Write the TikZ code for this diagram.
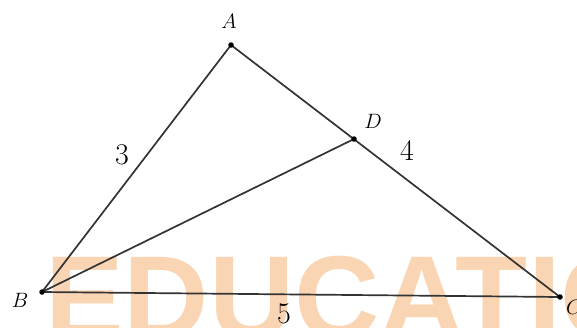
\documentclass[tikz,border=0pt]{standalone}
\usepackage{fontspec}
\newfontfamily\wmfont{Liberation Sans}
\definecolor{wm}{HTML}{FAD5B4}
\definecolor{ln}{HTML}{333333}
\begin{document}
\begin{tikzpicture}[x=1pt,y=-1pt,
  seg/.style={draw=ln,line width=1.7pt},
  pt/.style={circle,fill=black,inner sep=0pt,minimum size=5.5pt},
  lbl/.style={font=\fontsize{20.5}{20.5}\selectfont},
  num/.style={font=\fontsize{30}{30}\selectfont}]
\useasboundingbox (0,0) rectangle (577,327);
\begin{scope}
\clip (0,0) rectangle (577,327);
\node[anchor=base west,inner sep=0pt,text=wm,font=\wmfont\bfseries\fontsize{118}{118}\selectfont] (wmark) at (45,338) {EDUCATION};
\end{scope}
\coordinate (A) at (231,45);
\coordinate (B) at (42,292);
\coordinate (C) at (560,297);
\coordinate (D) at (354,139);
\draw[seg] (B) -- (A) -- (C) -- cycle;
\draw[seg] (B) -- (D);
\foreach \p in {A,B,C,D} \node[pt] (dot\p) at (\p) {};
\node[lbl] (lA) at (229,21) {$A$};
\node[lbl] (lB) at (20,300) {$B$};
\node[lbl] (lC) at (574,307) {$C$};
\node[lbl] (lD) at (373,121) {$D$};
\node[num] (n3) at (122,155) {3};
\node[num] (n4) at (407,150) {4};
\node[num] (n5) at (284,314) {5};
\end{tikzpicture}
\end{document}
